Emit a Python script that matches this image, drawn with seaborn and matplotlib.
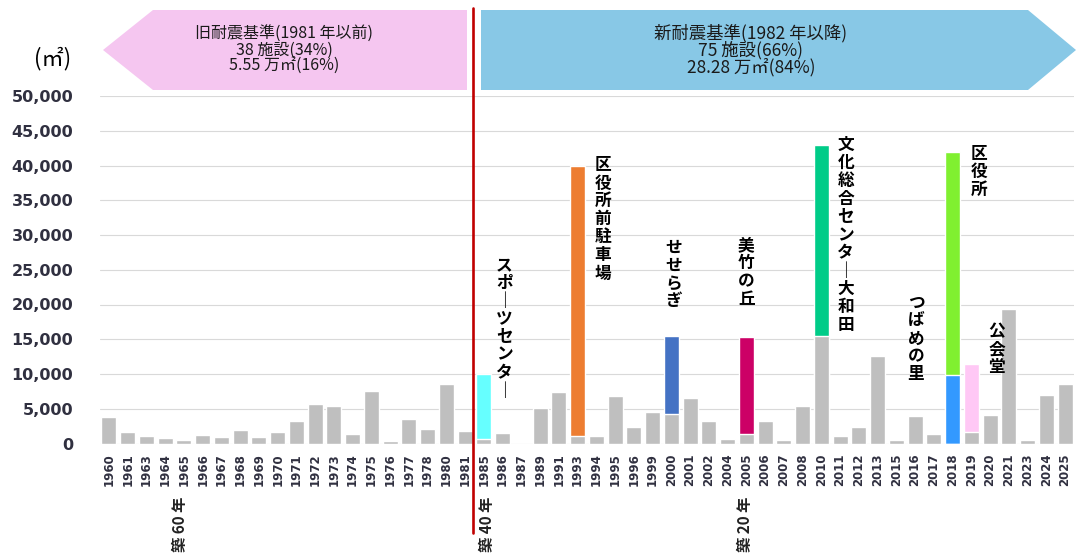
import numpy as np
import pandas as pd
import matplotlib.pyplot as plt
from matplotlib.patches import Polygon
from matplotlib.lines import Line2D
import seaborn as sns

# years on the x axis (only years that have facilities)
years = ['1960', '1961', '1963', '1964', '1965', '1966', '1967', '1968', '1969', '1970',
         '1971', '1972', '1973', '1974', '1975', '1976', '1977', '1978', '1980', '1981',
         '1985', '1986', '1987', '1989', '1991', '1993', '1994', '1995', '1996', '1999',
         '2000', '2001', '2002', '2004', '2005', '2006', '2007', '2008', '2010', '2011',
         '2012', '2013', '2015', '2016', '2017', '2018', '2019', '2020', '2021', '2023',
         '2024', '2025']

# floor area (m2) of the other facilities per year (gray bars)
other_area = [3800, 1600, 1150, 800, 450, 1250, 900, 2000, 950, 1700,
              3300, 5700, 5400, 1350, 7500, 400, 3500, 2100, 8600, 1800,
              600, 1450, 0, 5100, 7400, 1150, 1150, 6850, 2350, 4500,
              4300, 6600, 3200, 650, 1400, 3200, 500, 5400, 15500, 1150,
              2400, 12600, 500, 3950, 1300, 0, 1600, 4100, 19300, 500,
              7050, 8500]

# named facilities stacked on top of the gray part
facility_names = ['スポーツセンター', '区役所前駐車場', 'せせらぎ', '美竹の丘',
                  '文化総合センター大和田', 'つばめの里', '区役所', '公会堂']
facility_years = ['1985', '1993', '2000', '2005', '2010', '2018', '2018', '2019']
facility_area = [9400, 38850, 11200, 13900, 27500, 9900, 32100, 9900]

facility_colors = ['#66FFFF', '#ED7D31', '#4472C4', '#CC0066',
                   '#00CC88', '#3399FF', '#80F030', '#FFC8F5']
# where each name is written: (x offset from its bar, top of text in m2)
label_pos = [(1.1, 27000), (1.35, 41300), (0.1, 29500), (0.0, 29800),
             (1.3, 44200), (-1.95, 21600), (1.4, 42900), (1.35, 17500)]

old_text = '旧耐震基準(1981 年以前)\n38 施設(34%)\n5.55 万㎡(16%)'
new_text = '新耐震基準(1982 年以降)\n75 施設(66%)\n28.28 万㎡(84%)'

sns.set_style('white')
plt.rcParams['font.family'] = ['DejaVu Sans', 'Noto Sans CJK JP']
cjk = ['Noto Sans CJK JP', 'DejaVu Sans']

W, H = 1078, 554
fig = plt.figure(figsize=(W / 100, H / 100), dpi=100)
ax = fig.add_axes([99.6 / W, 110.5 / H, 974.8 / W, 347.5 / H])

# stack bottoms for the facility segments
base = dict(zip(years, other_area))
tops = []
for y, a in zip(facility_years, facility_area):
    tops.append(base[y] + a)
    base[y] += a

# draw the tallest segments first, then cover the lower part
# (the 2018 pair: つばめの里 sits on the ground under 区役所)
layer_order = np.argsort(tops)[::-1]
for i in layer_order:
    sns.barplot(x=[facility_years[i]], y=[tops[i]], order=years, color=facility_colors[i],
                saturation=1, width=0.8, ax=ax)
sns.barplot(x=years, y=other_area, order=years, color='#BFBFBF', saturation=1, width=0.8, ax=ax)

ax.set_xlim(-0.5, len(years) - 0.5)
ax.set_ylim(0, 50000)
ax.set_yticks(range(0, 50001, 5000))
ax.set_yticklabels([f'{v:,}' for v in range(0, 50001, 5000)], fontsize=11.5,
                   fontweight='bold', color='#303040')
ax.set_xticks(range(len(years)))
ax.set_xticklabels(years, rotation=90, fontsize=8.5, fontweight='bold', color='#303040')
ax.tick_params(axis='y', length=0, pad=19)
ax.tick_params(axis='x', length=0, pad=7)
ax.yaxis.grid(True, color='#D9D9D9', lw=0.8)
ax.set_axisbelow(True)
ax.set_xlabel('')
ax.set_ylabel('')
sns.despine(ax=ax, left=True, bottom=True)

# facility names written vertically
for name, y, (dx, ty) in zip(facility_names, facility_years, label_pos):
    vert = '\n'.join(name.replace('ー', '｜'))
    ax.text(years.index(y) + dx, ty, vert, ha='center', va='top', fontsize=12,
            fontweight='bold', family=cjk, linespacing=1.0, color='black')


def fx(px):
    return px / W


def fy(py):
    return 1 - py / H


# banners
pink = [(103, 50), (153, 10), (467, 10), (467, 90), (153, 90)]
blue = [(481, 10), (1028, 10), (1076, 50), (1028, 90), (481, 90)]
fig.add_artist(Polygon([(fx(a), fy(b)) for a, b in pink], closed=True,
                       transform=fig.transFigure, fc='#F5C6F0', ec='none'))
fig.add_artist(Polygon([(fx(a), fy(b)) for a, b in blue], closed=True,
                       transform=fig.transFigure, fc='#88C8E6', ec='none'))
fig.text(fx(284), fy(50), old_text, ha='center', va='center', fontsize=11.5,
         linespacing=0.95, family=cjk, color='#1A1A1A')
fig.text(fx(751), fy(50), new_text, ha='center', va='center', fontsize=12.5,
         linespacing=0.9, family=cjk, color='#1A1A1A')

# 1981 / 1982 border
fig.add_artist(Line2D([fx(472.5), fx(472.5)], [fy(8), fy(533)], transform=fig.transFigure,
                      color='#C00000', lw=1.9))

fig.text(fx(53), fy(59), '(㎡)', ha='center', va='center', fontsize=16, family=cjk,
         color='black')

for label, px in [('築 60 年', 180), ('築 40 年', 487), ('築 20 年', 745)]:
    fig.text(fx(px), fy(497), label, rotation=90, ha='center', va='top', fontsize=11,
             fontweight='bold', family=cjk, color='#222222')

fig.savefig('out.png', dpi=100)
